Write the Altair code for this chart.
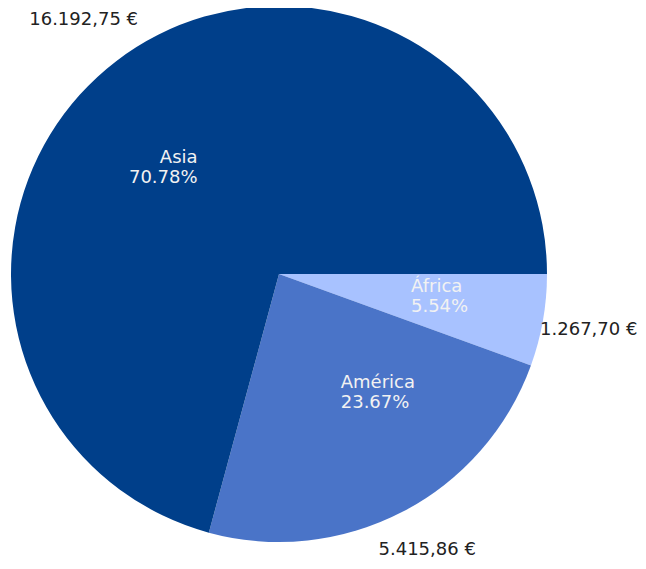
import altair as alt
import pandas as pd
import math

regions = ["África", "América", "Asia"]
values = [1267.70, 5415.86, 16192.75]
value_labels = ["1.267,70 €", "5.415,86 €", "16.192,75 €"]
pct_labels = ["5.54%", "23.67%", "70.78%"]
colors = ["#a8c2ff", "#4a74c8", "#003f8a"]
order_idx = [0, 1, 2]

df = pd.DataFrame({
    "region": regions,
    "value": values,
    "vlabel": value_labels,
    "inner": [r + "\n" + p for r, p in zip(regions, pct_labels)],
    "ord": order_idx,
})
df["inner_left"] = [t if r != "Asia" else "" for t, r in zip(df["inner"], df["region"])]
df["inner_right"] = [t if r == "Asia" else "" for t, r in zip(df["inner"], df["region"])]
for r in regions:
    df["v_" + r] = [t if rr == r else "" for t, rr in zip(df["vlabel"], df["region"])]

CX, CY, R = 271, 266, 268

theta = alt.Theta("value:Q", stack=True,
                  scale=alt.Scale(range=[math.pi / 2, math.pi / 2 + 2 * math.pi]))
order = alt.Order("ord:Q", sort="ascending")
cx = alt.value(CX)
cy = alt.value(CY)

base = alt.Chart(df)

arcs = base.mark_arc(radius=R, stroke=None).encode(
    theta=theta,
    order=order,
    x=cx, y=cy,
    color=alt.Color("region:N", scale=alt.Scale(domain=regions, range=colors), legend=None),
)

txt_kw = dict(font="DejaVu Sans", fontSize=18, lineBreak="\n", lineHeight=20, baseline="middle")

inner_left = base.mark_text(radius=R * 0.5, align="left", dy=-10, color="#f2f2f2", **txt_kw).encode(
    theta=theta, order=order, x=cx, y=cy, text="inner_left:N")
inner_right = base.mark_text(radius=R * 0.5, align="right", dy=-10, color="#f2f2f2", **txt_kw).encode(
    theta=theta, order=order, x=cx, y=cy, text="inner_right:N")

offsets = {"África": (-7, 0), "América": (0, -9), "Asia": (0, 1)}
outers = []
for r in regions:
    ddx, ddy = offsets[r]
    outers.append(
        base.mark_text(radius=R * 1.2, align="center", color="#222222", dx=ddx, dy=ddy, **txt_kw).encode(
            theta=theta, order=order, x=cx, y=cy, text=alt.Text(f"v_{r}:N"))
    )

chart = alt.layer(arcs, inner_left, inner_right, *outers).properties(
    width=630, height=553, autosize=alt.AutoSizeParams(type="none"), padding=0
).configure_view(stroke=None)

chart.save("out.html", embed_options={"renderer": "svg", "actions": False})
